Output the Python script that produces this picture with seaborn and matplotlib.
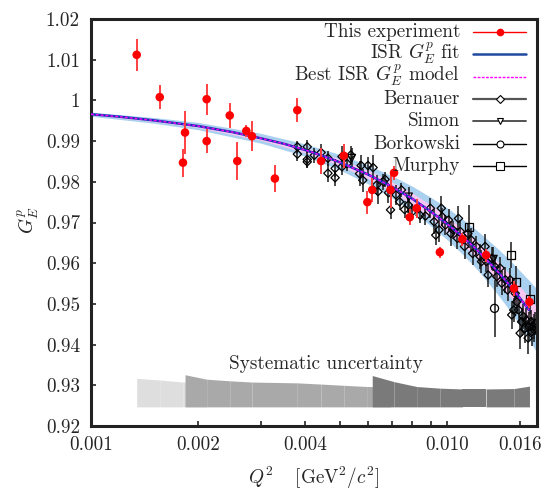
import numpy as np
import pandas as pd
import seaborn as sns
import matplotlib
matplotlib.use("Agg")
import matplotlib.pyplot as plt
import matplotlib.ticker as ticker
from matplotlib.lines import Line2D

### data

# this experiment (red points)
exp_q2 = [0.001344, 0.001560, 0.001813, 0.001837, 0.002113, 0.002113, 0.002453, 0.002576,
          0.002731, 0.002833, 0.003285, 0.003798, 0.004430, 0.005130, 0.005975, 0.006166,
          0.006940, 0.007100, 0.007860, 0.008220, 0.009550, 0.011050, 0.012880, 0.015420,
          0.017050]
exp_ge = [1.0112, 1.0008, 0.9847, 0.9921, 1.0003, 0.9900, 0.9963, 0.9851,
          0.9925, 0.9912, 0.9808, 0.9976, 0.9851, 0.9864, 0.9750, 0.9780,
          0.9780, 0.9822, 0.9713, 0.9735, 0.9627, 0.9659, 0.9620, 0.9538,
          0.9505]
exp_err = [0.0039, 0.0030, 0.0034, 0.0053, 0.0038, 0.0030, 0.0030, 0.0046,
           0.0015, 0.0037, 0.0034, 0.0030, 0.0032, 0.0029, 0.0028, 0.0029,
           0.0045, 0.0018, 0.0019, 0.0023, 0.0014, 0.0016, 0.0016, 0.0018,
           0.0014]

# ISR fit and best model curve
fit_q2 = [0.0010, 0.0012, 0.0015, 0.0020, 0.0025, 0.0030, 0.0035, 0.0040, 0.0045, 0.0050,
          0.0060, 0.0070, 0.0080, 0.0090, 0.0100, 0.0110, 0.0120, 0.0130, 0.0140, 0.0150,
          0.0160, 0.0170]
fit_ge = [0.9966, 0.9960, 0.9951, 0.9937, 0.9922, 0.9907, 0.9893, 0.9878, 0.9863, 0.9848,
          0.9818, 0.9788, 0.9758, 0.9727, 0.9697, 0.9667, 0.9637, 0.9606, 0.9576, 0.9546,
          0.9515, 0.9485]

# uncertainty bands
band_q2 = [0.0010, 0.0015, 0.0020, 0.0030, 0.0040, 0.0050, 0.0060, 0.0070, 0.0080, 0.0090,
           0.0100, 0.0110, 0.0120, 0.0130, 0.0140, 0.0150, 0.0160, 0.0170, 0.0179]
band_mid = [0.9966, 0.9951, 0.9937, 0.9907, 0.9878, 0.9848, 0.9818, 0.9788, 0.9758, 0.9727,
            0.9697, 0.9667, 0.9637, 0.9606, 0.9576, 0.9546, 0.9515, 0.9485, 0.9458]
isr_half = [0.0005, 0.0007, 0.0009, 0.0012, 0.0015, 0.0019, 0.0023, 0.0027, 0.0031, 0.0035,
            0.0039, 0.0043, 0.0047, 0.0052, 0.0057, 0.0062, 0.0067, 0.0073, 0.0078]
model_half = [0.0002, 0.0003, 0.0004, 0.0005, 0.0007, 0.0008, 0.0010, 0.0012, 0.0014, 0.0016,
              0.0018, 0.0019, 0.0021, 0.0023, 0.0025, 0.0027, 0.0029, 0.0031, 0.0033]

# Bernauer
bern_q2 = [3.80, 3.80, 4.05, 4.05, 4.05, 4.24, 4.43, 4.63, 4.63, 4.85, 4.85, 5.07, 5.07, 5.24,
           5.37, 5.68, 5.74, 5.80, 6.00, 6.20, 6.34, 6.40, 6.63, 6.70, 6.85, 6.94, 7.19, 7.36,
           7.45, 7.60, 7.79, 8.00, 8.40, 8.70, 8.98, 9.20, 9.30, 9.50, 9.64, 9.70, 9.90, 10.10,
           10.25, 10.40, 10.70, 10.77, 10.90, 11.20, 11.45, 11.70, 11.80, 12.10, 12.40, 12.50,
           12.80, 12.90, 13.05, 13.35, 13.65, 13.80, 14.10, 14.25, 14.60, 14.80, 15.05, 15.20,
           15.40, 15.55, 15.70, 15.90, 16.05, 16.20, 16.40, 16.55, 16.70, 16.90, 17.00, 17.20,
           17.30, 17.50, 17.60, 17.70]
bern_ge = [0.9886, 0.9868, 0.9886, 0.9855, 0.9849, 0.9865, 0.9872, 0.9821, 0.9858, 0.9810,
           0.9833, 0.9862, 0.9837, 0.9845, 0.9866, 0.9820, 0.9840, 0.9804, 0.9840, 0.9835,
           0.9792, 0.9776, 0.9800, 0.9806, 0.9773, 0.9731, 0.9768, 0.9751, 0.9780, 0.9732,
           0.9743, 0.9727, 0.9718, 0.9716, 0.9735, 0.9702, 0.9669, 0.9682, 0.9735, 0.9714,
           0.9694, 0.9706, 0.9673, 0.9682, 0.9661, 0.9710, 0.9678, 0.9641, 0.9673, 0.9657,
           0.9624, 0.9641, 0.9616, 0.9604, 0.9641, 0.9604, 0.9571, 0.9612, 0.9591, 0.9567,
           0.9588, 0.9551, 0.9559, 0.9534, 0.9559, 0.9473, 0.9485, 0.9526, 0.9505, 0.9485,
           0.9428, 0.9456, 0.9469, 0.9440, 0.9460, 0.9416, 0.9444, 0.9456, 0.9432, 0.9444,
           0.9436, 0.9452]
bern_err = [0.0015, 0.0018, 0.0016, 0.0020, 0.0015, 0.0018, 0.0020, 0.0022, 0.0018, 0.0020,
            0.0022, 0.0025, 0.0020, 0.0018, 0.0022, 0.0030, 0.0025, 0.0028, 0.0022, 0.0030,
            0.0025, 0.0030, 0.0020, 0.0018, 0.0025, 0.0022, 0.0024, 0.0020, 0.0018, 0.0022,
            0.0020, 0.0018, 0.0020, 0.0022, 0.0025, 0.0030, 0.0025, 0.0030, 0.0030, 0.0022,
            0.0025, 0.0028, 0.0030, 0.0022, 0.0025, 0.0030, 0.0028, 0.0030, 0.0025, 0.0030,
            0.0028, 0.0025, 0.0030, 0.0028, 0.0030, 0.0025, 0.0030, 0.0028, 0.0030, 0.0025,
            0.0028, 0.0030, 0.0032, 0.0028, 0.0030, 0.0035, 0.0030, 0.0028, 0.0030, 0.0032,
            0.0040, 0.0035, 0.0030, 0.0035, 0.0030, 0.0040, 0.0035, 0.0030, 0.0035, 0.0030,
            0.0030, 0.0028]

# Simon, Borkowski, Murphy
simon_q2 = [5.40, 7.80, 13.50]
simon_ge = [0.9858, 0.9763, 0.9610]
simon_err = [0.0025, 0.0025, 0.0030]

bork_q2 = [13.60]
bork_ge = [0.9489]
bork_err = [0.0070]

murphy_q2 = [11.50, 15.10, 15.60, 17.10]
murphy_ge = [0.9690, 0.9620, 0.9553, 0.9511]
murphy_err = [0.0052, 0.0033, 0.0040, 0.0035]

# systematic uncertainty (three beam settings)
sys_low_q2 = [0.001344, 0.001560, 0.001813, 0.002113]
sys_low_top = [0.9317, 0.9313, 0.9308, 0.9305]
sys_mid_q2 = [0.001837, 0.002113, 0.002453, 0.002833, 0.003798, 0.004430, 0.005130, 0.005975, 0.006940]
sys_mid_top = [0.9326, 0.9315, 0.9311, 0.9308, 0.9306, 0.9303, 0.9300, 0.9297, 0.9296]
sys_high_q2 = [0.006166, 0.007100, 0.008220, 0.009550, 0.011050, 0.012880, 0.015420, 0.017050]
sys_high_top = [0.9324, 0.9309, 0.9297, 0.9293, 0.9291, 0.9291, 0.9292, 0.9298]
sys_base = 0.9247

x_ticks = [0.001, 0.002, 0.004, 0.010, 0.016]
x_ticklabels = ["0.001", "0.002", "0.004", "0.010", "0.016"]
x_minor = [0.003, 0.005, 0.006, 0.007, 0.008, 0.009]
y_ticks = [0.92, 0.93, 0.94, 0.95, 0.96, 0.97, 0.98, 0.99, 1.00, 1.01, 1.02]
y_ticklabels = ["0.92", "0.93", "0.94", "0.95", "0.96", "0.97", "0.98", "0.99", "1", "1.01", "1.02"]

legend_labels = ["This experiment", r"ISR $G_E^p$ fit", r"Best ISR $G_E^p$ model",
                 "Bernauer", "Simon", "Borkowski", "Murphy"]

### style
sns.set_theme(style="ticks")
plt.rcParams["font.family"] = ["cmr10", "DejaVu Serif"]
plt.rcParams["mathtext.fontset"] = "cm"
plt.rcParams["axes.formatter.use_mathtext"] = True
FS = 13.8
plt.rcParams["font.size"] = FS

W, H = 544, 490
fig = plt.figure(figsize=(W / 100, H / 100), dpi=100)
ax = fig.add_axes([91 / W, 1 - 426 / H, (537 - 91) / W, (426 - 19) / H])
ax.set_xscale("log")

blue_band = "#a9d0ef"
pink_band = "#f7c7f1"
fit_blue = "#1534b4"

# bands
bq = np.array(band_q2)
bm = np.array(band_mid)
ax.fill_between(bq, bm - np.array(isr_half), bm + np.array(isr_half), color=blue_band, lw=0, zorder=1)
ax.fill_between(bq, bm - np.array(model_half), bm + np.array(model_half), color=pink_band, lw=0, zorder=1.1)

# systematic uncertainty blocks
for xs, tops, col in [(sys_low_q2, sys_low_top, "#dedede"),
                      (sys_mid_q2, sys_mid_top, "#a9a9a9"),
                      (sys_high_q2, sys_high_top, "#7a7a7a")]:
    for i in range(len(xs) - 1):
        ax.fill_between(xs[i:i + 2], [sys_base, sys_base], tops[i:i + 2], color=col, lw=0, zorder=1.2)
ax.text(0.00457, 0.9352, "Systematic uncertainty", ha="center", va="center", fontsize=FS)

# other world data
def draw_set(q2, ge, err, marker, ms, ecol):
    q = np.array(q2) / 1000.0
    ax.errorbar(q, ge, yerr=err, fmt="none", ecolor=ecol, elinewidth=1.1, zorder=2)
    df = pd.DataFrame({"q2": q, "ge": ge})
    sns.scatterplot(data=df, x="q2", y="ge", marker=marker, s=ms, facecolor="none",
                    edgecolor="black", linewidth=0.9, ax=ax, zorder=2.5, legend=False)

draw_set(bern_q2, bern_ge, bern_err, "D", 18, "#1a1a1a")
draw_set(simon_q2, simon_ge, simon_err, "v", 30, "#1a1a1a")
draw_set(bork_q2, bork_ge, bork_err, "o", 34, "#1a1a1a")
draw_set(murphy_q2, murphy_ge, murphy_err, "s", 34, "#1a1a1a")

# fit lines
fit_df = pd.DataFrame({"q2": fit_q2, "ge": fit_ge})
sns.lineplot(data=fit_df, x="q2", y="ge", color=fit_blue, lw=1.8, ax=ax, zorder=3)
sns.lineplot(data=fit_df, x="q2", y="ge", color="#ff00ff", lw=1.0, ax=ax, zorder=3.1,
             linestyle=(0, (2, 1.5)))

# this experiment
ax.errorbar(exp_q2, exp_ge, yerr=exp_err, fmt="none", ecolor="#ff4040", elinewidth=1.4, zorder=4)
exp_df = pd.DataFrame({"q2": exp_q2, "ge": exp_ge})
sns.scatterplot(data=exp_df, x="q2", y="ge", color="#ff0000", s=38, edgecolor="none",
                ax=ax, zorder=4.5, legend=False)

# axes
ax.set_xlim(0.001, 0.0179)
ax.set_ylim(0.92, 1.02)
ax.xaxis.set_major_locator(ticker.FixedLocator(x_ticks))
ax.xaxis.set_major_formatter(ticker.FixedFormatter(x_ticklabels))
ax.xaxis.set_minor_locator(ticker.FixedLocator(x_minor))
ax.xaxis.set_minor_formatter(ticker.NullFormatter())
ax.yaxis.set_major_locator(ticker.FixedLocator(y_ticks))
ax.yaxis.set_major_formatter(ticker.FixedFormatter(y_ticklabels))
ax.tick_params(axis="both", which="both", direction="in", length=3.3, width=1.2,
               color="#222222", labelsize=FS, top=False, right=False)
ax.tick_params(axis="x", which="major", pad=7)
ax.tick_params(axis="y", which="major", pad=8)
for s in ax.spines.values():
    s.set_linewidth(2.2)
    s.set_color("#222222")

ax.set_xlabel(r"$Q^2\quad\;[\mathrm{GeV}^2/c^2]$", fontsize=FS)
ax.set_ylabel(r"$G_E^p$", fontsize=FS)
ax.xaxis.set_label_coords(0.5, -0.095)
ax.yaxis.set_label_coords(-0.112, 0.506)

# legend, laid out by hand in figure pixels: text right-aligned, handle on the right
handles = [
    dict(color="#ff0000", lw=1.0, marker="o", ms=5.5, mec="none"),
    dict(color="#1f4aa0", lw=1.8),
    dict(color="#ff00ff", lw=1.0, linestyle=(0, (2, 1))),
    dict(color="#555555", lw=1.6, marker="D", ms=3.8, mfc="white", mec="black", mew=0.8),
    dict(color="#444444", lw=1.3, marker="v", ms=5, mfc="white", mec="black", mew=0.8),
    dict(color="black", lw=1.0, marker="o", ms=5, mfc="white", mec="black", mew=0.8),
    dict(color="black", lw=1.0, marker="s", ms=5.5, mfc="white", mec="black", mew=0.8),
]
row0, row_step = 31.8, 22.4
for i, (lab, hd) in enumerate(zip(legend_labels, handles)):
    yc = row0 + i * row_step
    fig.text(460 / W, 1 - (yc + 5.0) / H, lab, ha="right", va="baseline", fontsize=FS)
    line = Line2D([473 / W, 499.5 / W, 526 / W], [1 - yc / H] * 3, transform=fig.transFigure,
                  markevery=[1], **hd)
    fig.add_artist(line)

fig.savefig("out.png", dpi=100)
